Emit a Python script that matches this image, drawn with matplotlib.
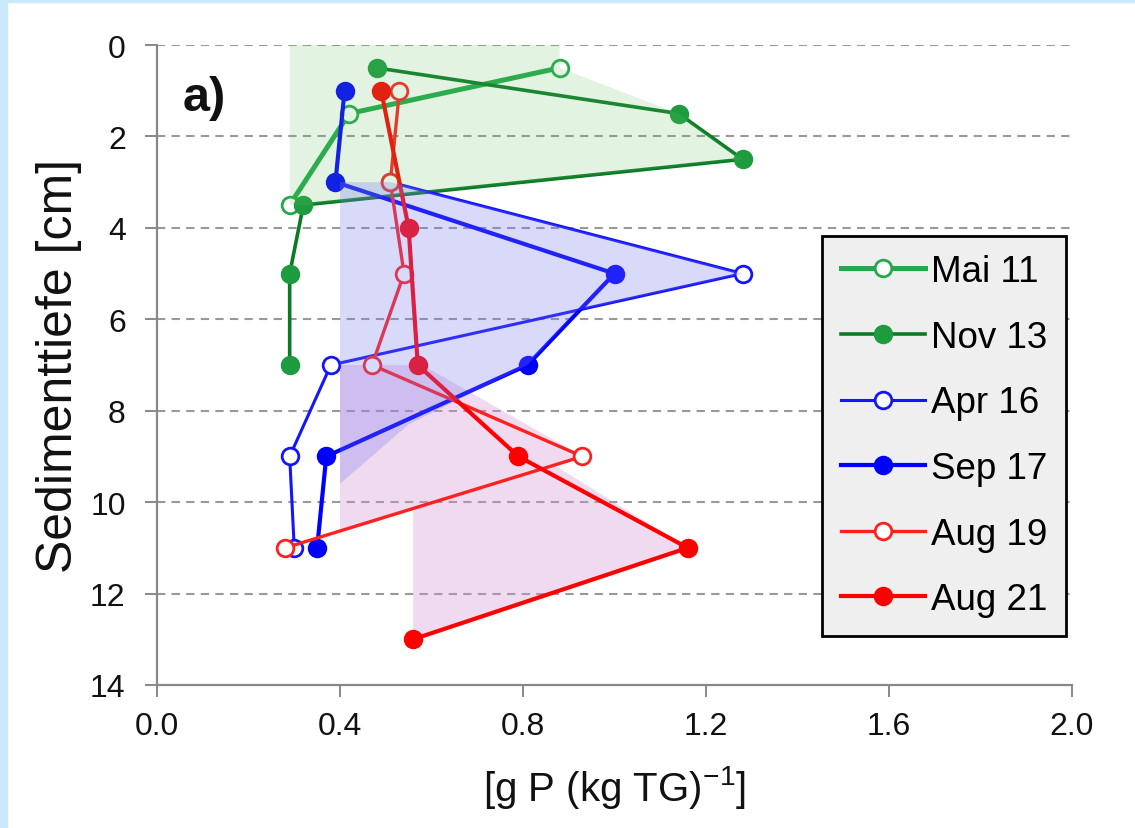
"""Sediment P depth profiles, panel a)."""
import matplotlib

matplotlib.use("Agg")
import matplotlib.pyplot as plt
from matplotlib.patches import Polygon, Rectangle

plt.rcParams["font.family"] = ["Liberation Sans", "DejaVu Sans"]
plt.rcParams["mathtext.fontset"] = "custom"
plt.rcParams["mathtext.rm"] = "Liberation Sans"
plt.rcParams["mathtext.default"] = "regular"

# depth [cm] and P content per campaign
mai11_depth = [0.5, 1.5, 3.5]
mai11_p = [0.88, 0.42, 0.29]
nov13_depth = [0.5, 1.5, 2.5, 3.5, 5, 7]
nov13_p = [0.48, 1.14, 1.28, 0.32, 0.29, 0.29]
apr16_depth = [3, 5, 7, 9, 11]
apr16_p = [0.51, 1.28, 0.38, 0.29, 0.30]
sep17_depth = [1, 3, 5, 7, 9, 11]
sep17_p = [0.41, 0.39, 1.00, 0.81, 0.37, 0.35]
aug19_depth = [1, 3, 5, 7, 9, 11]
aug19_p = [0.53, 0.51, 0.54, 0.47, 0.93, 0.28]
aug21_depth = [1, 4, 7, 9, 11, 13]
aug21_p = [0.49, 0.55, 0.57, 0.79, 1.16, 0.56]

# shaded envelopes (P, depth)
shade_green_p = [0.29, 0.88, 0.88, 1.14, 1.28, 0.32, 0.29]
shade_green_depth = [0.0, 0.0, 0.5, 1.5, 2.5, 3.5, 3.5]
shade_blue_p = [0.40, 0.51, 1.28, 0.92, 0.81, 0.55, 0.40]
shade_blue_depth = [3.0, 3.0, 5.0, 5.8, 7.0, 8.3, 9.6]
shade_red_p = [0.40, 0.58, 0.93, 0.87, 1.16, 0.56, 0.56, 0.40]
shade_red_depth = [7.0, 7.0, 9.0, 9.2, 11.0, 13.0, 10.14, 10.63]

x_ticks = [0.0, 0.4, 0.8, 1.2, 1.6, 2.0]
y_ticks = [0, 2, 4, 6, 8, 10, 12, 14]

series = [
    ("Mai 11", mai11_p, mai11_depth, "#23a84a", "#23a84a", "white", 3.6),
    ("Nov 13", nov13_p, nov13_depth, "#0b7a25", "#1c9c3e", "#1c9c3e", 2.6),
    ("Apr 16", apr16_p, apr16_depth, "#1414ff", "#1414ff", "white", 2.2),
    ("Sep 17", sep17_p, sep17_depth, "#0000ff", "#0000ff", "#0000ff", 3.0),
    ("Aug 19", aug19_p, aug19_depth, "#ff2020", "#ff2020", "white", 2.4),
    ("Aug 21", aug21_p, aug21_depth, "#ff0000", "#ff0000", "#ff0000", 3.0),
]

fig = plt.figure(figsize=(11.35, 8.29), dpi=100)
fig.patches.append(Rectangle((0, 0), 7 / 1135, 1, transform=fig.transFigure,
                             color="#cce8fc", zorder=0))
fig.patches.append(Rectangle((0, 1 - 3 / 829), 1, 3 / 829, transform=fig.transFigure,
                             color="#cce8fc", zorder=0))

ax = fig.add_axes([157 / 1135, 1 - 686 / 829, 915 / 1135, 640 / 829])

ax.add_patch(Polygon(list(zip(shade_red_p, shade_red_depth)), closed=True,
                     facecolor="#d090d0", alpha=0.33, edgecolor="none", zorder=1))

for label, p, d, lc, mec, mfc, lw in series:
    ax.plot(p, d, "-o", color=lc, lw=lw, markersize=12, markeredgewidth=2,
            markeredgecolor=mec, markerfacecolor=mfc, label=label, zorder=2)

ax.add_patch(Polygon(list(zip(shade_green_p, shade_green_depth)), closed=True,
                     facecolor="#60c060", alpha=0.18, edgecolor="none", zorder=3))
ax.add_patch(Polygon(list(zip(shade_blue_p, shade_blue_depth)), closed=True,
                     facecolor="#7878f0", alpha=0.28, edgecolor="none", zorder=3))

ax.set_xlim(0, 2.0)
ax.set_ylim(14, 0)
ax.set_xticks(x_ticks)
ax.set_xticklabels([f"{v:.1f}" for v in x_ticks])
ax.set_yticks(y_ticks)
ax.set_yticklabels([str(v) for v in y_ticks])

for side in ("top", "right"):
    ax.spines[side].set_visible(False)
for side in ("left", "bottom"):
    ax.spines[side].set_color("#888888")
    ax.spines[side].set_linewidth(1.6)

ax.tick_params(axis="both", direction="out", color="#888888", width=1.4,
               length=8.5, labelsize=23, labelcolor="#111111")
ax.tick_params(axis="y", pad=14)
ax.tick_params(axis="x", pad=10)

ax.yaxis.grid(True, color="#999999", linestyle=(0, (4, 3)), linewidth=1.5)
ax.set_axisbelow(True)
ax.get_ygridlines()[-1].set_visible(False)

ax.set_xlabel("[g P (kg TG)$^{-1}$]", fontsize=29, color="#111111", labelpad=16)
ax.set_ylabel("Sedimenttiefe [cm]", fontsize=36, color="#111111", labelpad=6)

ax.text(0.028, 0.918, "a)", transform=ax.transAxes, fontsize=35,
        fontweight="bold", ha="left", va="center", color="#111111")

leg = ax.legend(loc="upper left", bbox_to_anchor=(0.727, 0.7016), borderaxespad=0,
                fontsize=26.5, frameon=True, fancybox=False, numpoints=1,
                handlelength=2.3, handletextpad=0.15, labelspacing=0.83,
                borderpad=0.5)
frame = leg.get_frame()
frame.set_edgecolor("black")
frame.set_linewidth(2)
frame.set_facecolor("#efefef")
frame.set_alpha(1)

fig.savefig("out.png", dpi=100)
